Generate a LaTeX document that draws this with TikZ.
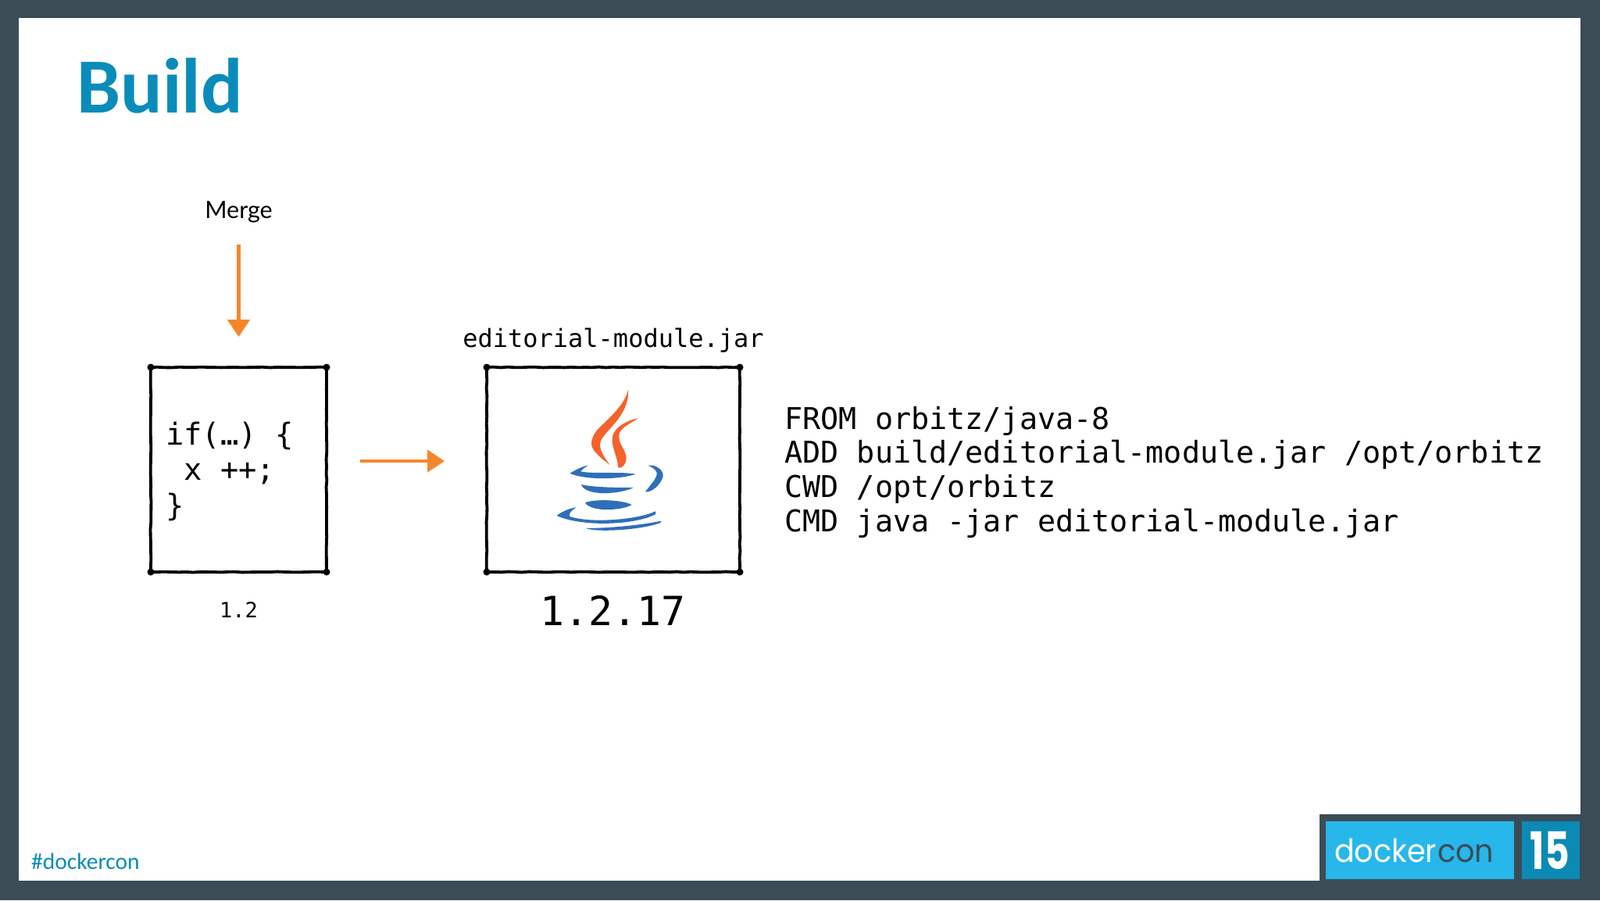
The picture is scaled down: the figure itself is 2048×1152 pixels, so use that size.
\documentclass[tikz,border=0pt]{standalone}
\usepackage{fontspec}
\setmainfont{Carlito}
\newfontfamily\monof{DejaVu Sans Mono}
\newfontfamily\logof{Poppins}
\newfontfamily\lato{Lato}
\usetikzlibrary{arrows.meta,decorations.pathmorphing,calc}
\definecolor{frame}{HTML}{3C4C56}
\definecolor{titleblue}{HTML}{0A8CBA}
\definecolor{logoblue}{HTML}{27B7EA}
\definecolor{logodark}{HTML}{0B8AB5}
\definecolor{arroworange}{HTML}{F6862B}
\definecolor{flame}{HTML}{F4632A}
\definecolor{cup}{HTML}{2F6FB9}
\newcommand{\fs}[2]{\fontsize{#1}{#2}\selectfont}
\tikzset{
  sketchbox/.style={draw=black,line width=3.8pt,inner sep=0pt,outer sep=0pt,decorate,
    decoration={random steps,segment length=9pt,amplitude=.45pt}},
  flow/.style={draw=arroworange,line width=4.5pt,
    -{Triangle[length=22pt,width=28pt,fill=arroworange]}},
  mono/.style={font=\monof,text=black,inner sep=0pt,outer sep=0pt},
  flamefill/.style={fill=flame,draw=none},
  cupfill/.style={fill=cup,draw=none},
}
\begin{document}
\begin{tikzpicture}[x=1pt,y=-1pt]
\useasboundingbox (0,0) rectangle (2048,1152);
\fill[frame] (0,0) rectangle (2048,1152);
\fill[white] (24,23) rectangle (2023,1127);

% title
\node[anchor=base west,inner sep=0pt,text=titleblue,font=\bfseries\fs{100}{100}] (title) at (98,144) {Build};
\node[anchor=base west,inner sep=0pt,text=titleblue,font=\fs{29.5}{29.5}] (tag) at (40,1112) {\#dockercon};

% boxes
\node[sketchbox,minimum width=225pt,minimum height=262pt] (a) at (305.5,601) {};
\node[sketchbox,minimum width=324pt,minimum height=262pt] (b) at (785,601) {};
\foreach \n in {a,b}\foreach \c in {north west,north east,south west,south east}
  \fill (\n.\c) circle (4.5pt);

% texts
\node[inner sep=0pt,font=\lato\fs{30.5}{30.5},text=black,text height=23pt,text depth=7pt] (merge) at (305.5,271) {Merge};
\node[mono,anchor=base,font=\monof\fs{32}{32}] (jar) at (785,444) {editorial-module.jar};
\node[mono,anchor=base,font=\monof\fs{38.8}{45.5},align=left,anchor=west] (code) at (212,603) {if(…) \{\\\hphantom{x}x ++;\\\}};
\node[mono,anchor=base,font=\monof\fs{27}{27}] (v1) at (305.5,790) {1.2};
\node[mono,anchor=base,font=\monof\fs{51.5}{51.5}] (v2) at (784.5,800) {1.2.17};
\node[mono,font=\monof\fs{38.4}{43.7},align=left,anchor=west] (docker) at (1004.5,604) {FROM orbitz/java-8\\ADD build/editorial-module.jar /opt/orbitz\\CWD /opt/orbitz\\CMD java -jar editorial-module.jar};

% connectors
\draw[flow,shorten <=27pt,shorten >=39pt] (merge.south) -- (a.north);
\draw[flow,shorten <=43pt,shorten >=54pt] ([yshift=11pt]a.east) -- ([yshift=11pt]b.west);

% java logo (drawn in 3x zoom coordinates)
\begin{scope}[shift={(600,440)},x=0.3333pt,y=-0.3333pt]
\path[flamefill] (612,175) .. controls (600,240) and (520,300) .. (490,335)
  .. controls (465,370) and (465,395) .. (490,420) .. controls (510,442) and (530,455) .. (541,465)
  .. controls (525,440) and (500,410) .. (505,380) .. controls (510,340) and (620,280) .. (612,175) -- cycle;
\path[flamefill] (651,286) .. controls (610,292) and (560,320) .. (552,355)
  .. controls (545,395) and (575,440) .. (573,475) .. controls (590,482) and (605,460) .. (605,435)
  .. controls (600,400) and (570,380) .. (578,345) .. controls (585,320) and (630,300) .. (651,286) -- cycle;
\path[cupfill] (388,497) .. controls (410,485) and (435,470) .. (458,467)
  .. controls (445,475) and (432,485) .. (430,490) .. controls (470,500) and (590,490) .. (640,500)
  .. controls (590,520) and (450,525) .. (388,497) -- cycle;
\path[cupfill] (432,540) .. controls (480,552) and (580,552) .. (632,552)
  .. controls (590,575) and (450,590) .. (432,540) -- cycle;
\path[cupfill] (447,610) .. controls (480,595) and (590,598) .. (626,618)
  .. controls (590,640) and (470,648) .. (447,610) -- cycle;
\path[cupfill] (338,660) .. controls (355,645) and (390,630) .. (413,628)
  .. controls (395,640) and (382,650) .. (388,663) .. controls (470,690) and (650,675) .. (717,643)
  .. controls (720,648) and (718,652) .. (716,655) .. controls (640,695) and (440,705) .. (338,660) -- cycle;
\path[cupfill] (450,708) .. controls (540,708) and (670,695) .. (738,680)
  .. controls (740,684) and (738,686) .. (734,688) .. controls (660,715) and (490,725) .. (450,708) -- cycle;
\path[cupfill] (688,467) .. controls (725,462) and (750,490) .. (746,510)
  .. controls (735,545) and (700,572) .. (678,568) .. controls (695,545) and (725,515) .. (722,495)
  .. controls (718,480) and (700,472) .. (688,467) -- cycle;
\end{scope}

% dockercon badge
\fill[frame] (1689,1042) rectangle (2023,1127);
\fill[logoblue] (1697,1051) rectangle (1938,1125);
\fill[logodark] (1948,1051) rectangle (2022,1125);
\node[anchor=base west,inner sep=0pt,font=\logof\fs{41}{41},text=white,xscale=.93] (logoa) at (1708,1103) {docker};
\node[anchor=base west,inner sep=0pt,font=\logof\fs{41}{41},text=frame,xscale=.93] (logob) at (1840,1103) {con};
\node[inner sep=0pt,font=\logof\bfseries\fs{66}{66},text=white,xscale=.74] (logon) at (1984,1088) {15};
\end{tikzpicture}
\end{document}
